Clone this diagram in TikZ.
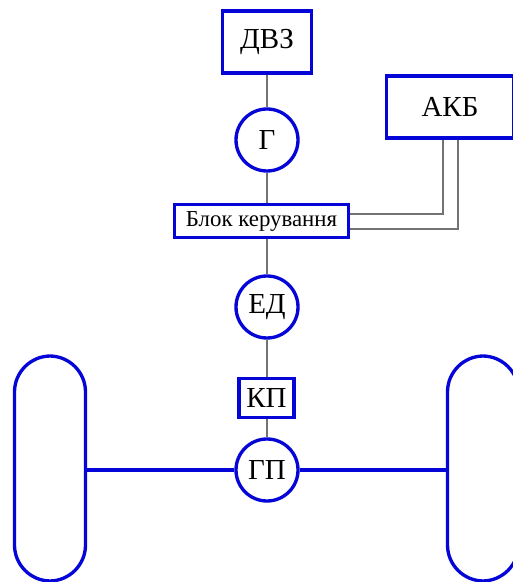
\documentclass[tikz,border=0pt]{standalone}
\usepackage{fontspec}
\setmainfont{Liberation Serif}
\usetikzlibrary{calc}
\definecolor{schemeblue}{RGB}{5,5,215}
\tikzset{
  box/.style= {draw=schemeblue, line width=1.9pt, font=\fontsize{16.5}{19}\selectfont},
  unit/.style= {draw=schemeblue, line width=1.9pt, circle, minimum size=1.24cm, inner sep=0, font=\fontsize{16.5}{19}\selectfont},
  wheel/.style= {draw=schemeblue, line width=1.9pt, rounded corners=0.72cm},
  link/.style= {draw=gray!90!black, line width=0.8pt},
  axle/.style= {draw=schemeblue, line width=1.9pt},
}

\begin{document}
\begin{tikzpicture}
  \useasboundingbox (0,0) rectangle (10.26,11.64);
  \clip (0,0) rectangle (10.26,11.64);

  \node [box, minimum width=1.78cm, minimum height=1.24cm] (dvz) at (5.34,10.8) {ДВЗ} ;
  \node [unit] (g) at (5.34,8.84) {Г} ;
  \node [box, minimum width=3.48cm, minimum height=0.66cm, font=\fontsize{13}{15}\selectfont] (blok) at (5.23,7.22) {Блок керування} ;
  \node [box, minimum width=2.54cm, minimum height=1.24cm] (akb) at (9.0,9.5) {АКБ} ;
  \node [unit] (ed) at (5.34,5.5) {ЕД} ;
  \node [box, minimum width=1.1cm, minimum height=0.78cm, inner sep=0] (kp) at (5.33,3.68) {КП} ;
  \node [unit] (gp) at (5.34,2.24) {ГП} ;

  % wheels
  \draw [wheel] (0.29,0.02) rectangle (1.71,4.52) ;
  \draw [wheel] (8.95,0.02) rectangle (10.37,4.52) ;
  \coordinate (lw) at (1.71,2.24) ;
  \coordinate (rw) at (8.95,2.24) ;

  % drive chain
  \draw [link] (dvz) -- (g) ;
  \draw [link] (g) -- (g |- blok.north) ;
  \draw [link] (ed |- blok.south) -- (ed) ;
  \draw [link] (ed) -- (ed |- kp.north) ;
  \draw [link] (gp |- kp.south) -- (gp) ;

  % battery wires
  \draw [link] ($(blok.east)+(0,0.14)$) -| ($(akb.south)+(-0.14,0)$) ;
  \draw [link] ($(blok.east)+(0,-0.16)$) -| ($(akb.south)+(0.16,0)$) ;

  % axle
  \draw [axle] (lw) -- (gp) -- (rw) ;
\end{tikzpicture}
\end{document}
